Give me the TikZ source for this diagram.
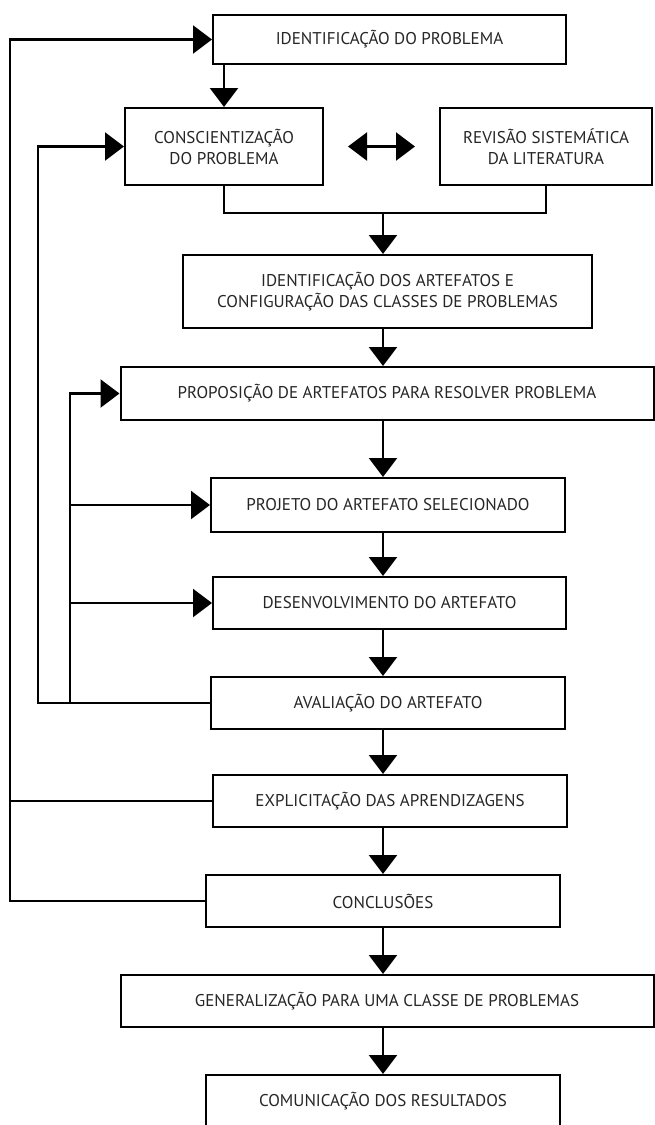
\documentclass[tikz,border=0pt]{standalone}
\usepackage{fontspec}
\setmainfont{PT Sans}
\usetikzlibrary{arrows.meta}
\begin{document}
\begin{tikzpicture}[x=1pt,y=-1pt,
  box/.style={draw=black,line width=2pt,fill=white,inner sep=0pt,align=center,
    text=black!85,font=\fontsize{17}{21}\selectfont},
  link/.style={line width=2.2pt,draw=black},
  tip/.tip={Triangle[width=28pt,length=19pt]},
  arr/.style={link,-tip},
  darr/.style={link,tip-tip}]
\useasboundingbox (0,0) rectangle (655,1125);
\node[box,minimum width=353pt,minimum height=49pt] (b1) at (389.5,39.5) {IDENTIFICAÇÃO DO PROBLEMA};
\node[box,minimum width=198pt,minimum height=77pt] (b2) at (224,146.5) {CONSCIENTIZAÇÃO\\DO PROBLEMA};
\node[box,minimum width=212pt,minimum height=77pt] (b3) at (546,146.5) {REVISÃO SISTEMÁTICA\\DA LITERATURA};
\node[box,minimum width=409pt,minimum height=73pt] (b4) at (387.5,291.5) {IDENTIFICAÇÃO DOS ARTEFATOS E\\CONFIGURAÇÃO DAS CLASSES DE PROBLEMAS};
\node[box,minimum width=533pt,minimum height=53pt] (b5) at (387,393.5) {PROPOSIÇÃO DE ARTEFATOS PARA RESOLVER PROBLEMA};
\node[box,minimum width=354pt,minimum height=54pt] (b6) at (388,505) {PROJETO DO ARTEFATO SELECIONADO};
\node[box,minimum width=353pt,minimum height=52pt] (b7) at (389.5,603) {DESENVOLVIMENTO DO ARTEFATO};
\node[box,minimum width=354pt,minimum height=52pt] (b8) at (388,703) {AVALIAÇÃO DO ARTEFATO};
\node[box,minimum width=354pt,minimum height=52pt] (b9) at (390,801) {EXPLICITAÇÃO DAS APRENDIZAGENS};
\node[box,minimum width=354pt,minimum height=52pt] (b10) at (383,901) {CONCLUSÕES};
\node[box,minimum width=533pt,minimum height=52pt] (b11) at (387,1001) {GENERALIZAÇÃO PARA UMA CLASSE DE PROBLEMAS};
\node[box,minimum width=354pt,minimum height=52pt] (b12) at (383,1101) {COMUNICAÇÃO DOS RESULTADOS};
\coordinate (ax) at (383,0);
\coordinate (m) at (383,213);
\coordinate (outer) at (10,0);
\coordinate (mid) at (38,0);
\coordinate (inner) at (70,0);
% top
\draw[arr] (b2.north |- b1.south) -- (b2.north);
\draw[darr] ([xshift=24pt]b2.east) -- ([xshift=-24pt]b3.west);
\draw[link] (b2.south) -- (b2.south |- m) -- (b3.south |- m) -- (b3.south);
\draw[arr] (m) -- (b4.north -| m);
% main chain
\draw[arr] (b4.south -| ax) -- (b5.north -| ax);
\draw[arr] (b5.south -| ax) -- (b6.north -| ax);
\draw[arr] (b6.south -| ax) -- (b7.north -| ax);
\draw[arr] (b7.south -| ax) -- (b8.north -| ax);
\draw[arr] (b8.south -| ax) -- (b9.north -| ax);
\draw[arr] (b9.south -| ax) -- (b10.north -| ax);
\draw[arr] (b10.south -| ax) -- (b11.north -| ax);
\draw[arr] (b11.south -| ax) -- (b12.north -| ax);
% feedback
\draw[arr] (b10.west) -- (b10.west -| outer) |- (b1.west);
\draw[link] (b9.west) -- (b9.west -| outer);
\draw[arr] (b8.west) -- (b8.west -| mid) |- (b2.west);
\draw[arr] (b8.west -| inner) |- (b5.west);
\draw[arr] (b6.west -| inner) -- (b6.west);
\draw[arr] (b7.west -| inner) -- (b7.west);
\end{tikzpicture}
\end{document}
